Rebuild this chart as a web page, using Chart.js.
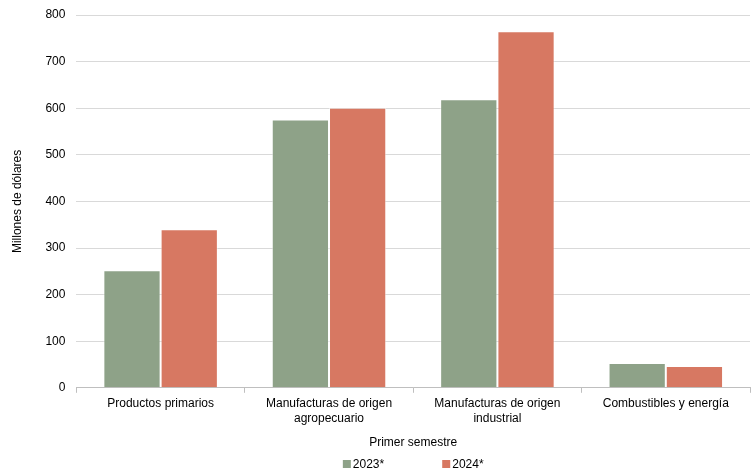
<!DOCTYPE html>
<html>
<head>
<meta charset="utf-8">
<script src="https://cdn.jsdelivr.net/npm/chart.js@4"></script>
<style>
  html, body { margin: 0; padding: 0; background: #fff; }
  #wrap { width: 752px; height: 472px; }
</style>
</head>
<body>
<div id="wrap"><canvas id="chart"></canvas></div>
<script>
const categories = [
  "Productos primarios",
  ["Manufacturas de origen", "agropecuario"],
  ["Manufacturas de origen", "industrial"],
  "Combustibles y energía"
];
const values2023 = [252, 576, 619, 53];
const values2024 = [340, 601, 765, 47];
const yTicks = [0, 100, 200, 300, 400, 500, 600, 700, 800];

const font = { family: "Liberation Sans, Arial, sans-serif", size: 12 };

// legend drawn by hand: Chart.js puts the same padding between items and rows
const wideLegend = {
  id: "wideLegend",
  afterDraw(chart) {
    const ctx = chart.ctx;
    const area = chart.chartArea;
    const items = chart.data.datasets.map(ds => ({ text: ds.label, color: ds.backgroundColor }));
    const gap = 58, box = 8;
    ctx.save();
    ctx.font = font.size + "px " + font.family;
    const widths = items.map(it => box + 2 + ctx.measureText(it.text).width);
    const total = widths.reduce((a, b) => a + b, 0) + gap * (items.length - 1);
    let x = (area.left + area.right) / 2 - total / 2;
    const y = chart.height - 8;
    items.forEach((it, i) => {
      ctx.fillStyle = it.color;
      ctx.fillRect(x, y - box / 2, box, box);
      ctx.fillStyle = "#000";
      ctx.textBaseline = "middle";
      ctx.textAlign = "left";
      ctx.fillText(it.text, x + box + 2, y + 1);
      x += widths[i] + gap;
    });
    ctx.restore();
  }
};

new Chart(document.getElementById("chart"), {
  type: "bar",
  data: {
    labels: categories,
    datasets: [
      {
        label: "2023*",
        data: values2023,
        backgroundColor: "#8ea288",
        borderColor: "rgba(255,255,255,0.5)",
        borderWidth: 1
      },
      {
        label: "2024*",
        data: values2024,
        backgroundColor: "#d77862",
        borderColor: "rgba(255,255,255,0.5)",
        borderWidth: 1
      }
    ]
  },
  options: {
    responsive: true,
    maintainAspectRatio: false,
    animation: false,
    layout: { padding: { top: 15, right: 2, left: 10, bottom: 22 } },
    datasets: { bar: { categoryPercentage: 0.68, barPercentage: 1 } },
    plugins: {
      legend: { display: false },
      tooltip: { enabled: false }
    },
    scales: {
      x: {
        grid: {
          display: true,
          drawOnChartArea: false,
          drawTicks: true,
          tickLength: 5,
          color: "#bfbfbf"
        },
        border: { color: "#bfbfbf" },
        ticks: { color: "#000", font: font, padding: 4, maxRotation: 0 },
        title: {
          display: true,
          text: "Primer semestre",
          color: "#000",
          font: font,
          padding: { top: 6, bottom: 0 }
        }
      },
      y: {
        min: 0,
        max: 800,
        afterBuildTicks: axis => { axis.ticks = yTicks.map(v => ({ value: v })); },
        afterFit: axis => { axis.paddingTop = 0; },
        grid: { color: "#d9d9d9", drawTicks: false },
        border: { display: false },
        ticks: { color: "#000", font: font, padding: 11 },
        title: {
          display: true,
          text: "Millones de dólares",
          color: "#000",
          font: font,
          padding: { top: 0, bottom: 10 }
        }
      }
    }
  },
  plugins: [wideLegend]
});
</script>
</body>
</html>
